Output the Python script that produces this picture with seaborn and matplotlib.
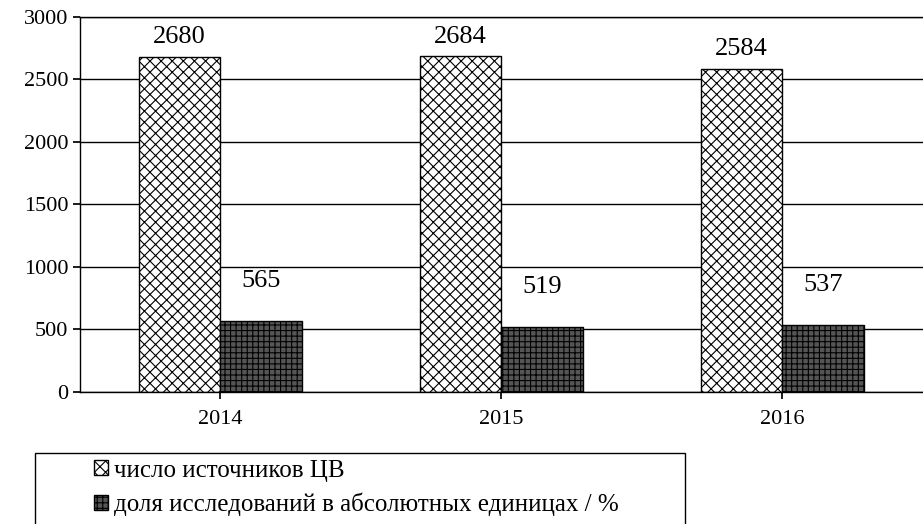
import seaborn as sns
import matplotlib.pyplot as plt
import pandas as pd
from matplotlib.patches import Rectangle

years = ["2014", "2015", "2016"]
sources = [2680, 2684, 2584]
shares = [565, 519, 537]
series_names = ["число источников ЦВ", "доля исследований в абсолютных единицах / %"]

df = pd.DataFrame({
    "year": years * 2,
    "value": sources + shares,
    "series": [series_names[0]] * 3 + [series_names[1]] * 3,
})

sns.set_theme(style="white")
plt.rcParams["font.family"] = ["Liberation Serif", "DejaVu Serif"]
plt.rcParams["hatch.linewidth"] = 0.8
plt.rcParams["text.color"] = "black"
plt.rcParams["xtick.color"] = "black"
plt.rcParams["ytick.color"] = "black"

fig = plt.figure(figsize=(9.23, 5.24), dpi=100)
ax = fig.add_axes([0.0867, 0.252, 0.913, 0.716])

sns.barplot(data=df, x="year", y="value", hue="series", ax=ax,
            palette=["white", "#3c3c3c"], width=0.58, gap=0,
            edgecolor="black", linewidth=1, legend=True, saturation=1)

# hatches per series
for bar in ax.patches[:3]:
    bar.set_hatch("xxx")
    bar.set_facecolor("white")
for bar in ax.patches[3:6]:
    bar.set_hatch("+++")
    bar.set_facecolor("#555555")

# value labels
pads = [6, 21]
for i, bars in enumerate([ax.patches[:3], ax.patches[3:6]]):
    for bar in bars:
        h = bar.get_height()
        ax.annotate(f"{int(h)}", (bar.get_x() + bar.get_width() / 2, h),
                    xytext=(0, pads[i]), textcoords="offset points",
                    ha="center", va="bottom", fontsize=19)

ax.set_ylim(0, 3000)
ax.set_yticks(range(0, 3001, 500))
ax.yaxis.grid(True, color="black", linewidth=1)
ax.set_axisbelow(True)
ax.set_xlabel("")
ax.set_ylabel("")
ax.tick_params(axis="y", labelsize=16, length=5, direction="out", left=True, color="black")
ax.tick_params(axis="x", labelsize=16, length=5, bottom=True, color="black", pad=8)
for side in ["left", "bottom", "top"]:
    ax.spines[side].set_color("black")
    ax.spines[side].set_linewidth(1)
ax.spines["right"].set_visible(False)

# legend with a wide frame drawn separately
handles, labels = ax.get_legend_handles_labels()
ax.get_legend().remove()
handles[0].set_hatch("xxx")
handles[0].set_facecolor("white")
handles[1].set_hatch("+++")
handles[1].set_facecolor("#555555")
fig.legend(handles, labels, loc="upper left", bbox_to_anchor=(0.102, 0.123),
           frameon=False, fontsize=18, handlelength=0.55, handleheight=0.55,
           handletextpad=0.25, labelspacing=0.45, borderaxespad=0, borderpad=0)
fig.patches.append(Rectangle((0.0379, -0.05), 0.7045, 0.186, transform=fig.transFigure,
                             fill=False, edgecolor="black", linewidth=1))

fig.savefig("out.png", dpi=100)
